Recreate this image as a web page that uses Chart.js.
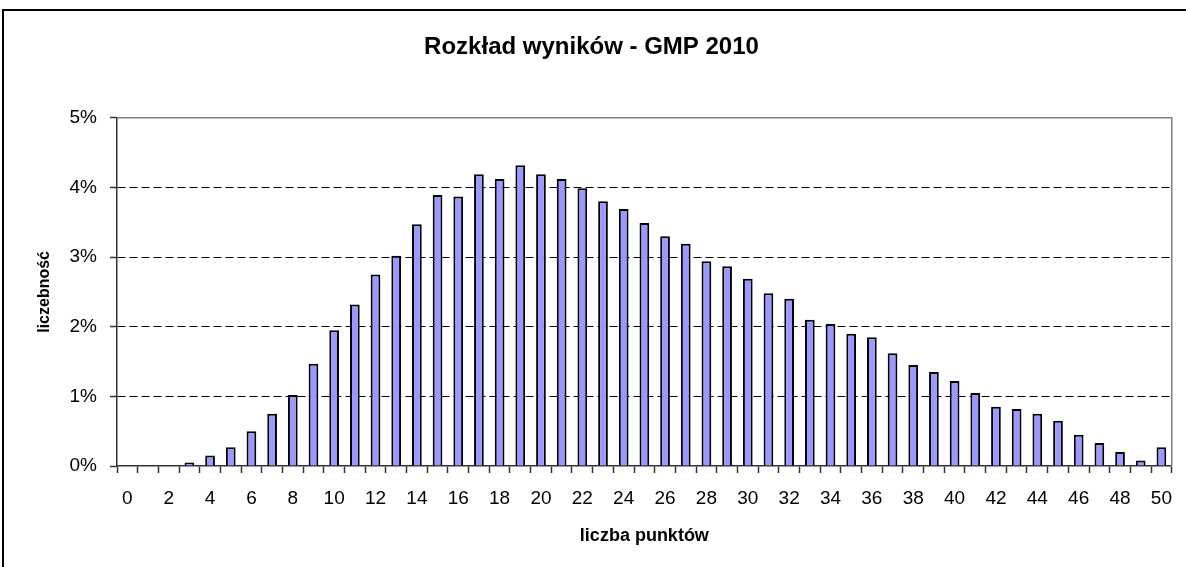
<!DOCTYPE html>
<html lang="pl">

<head>
    <meta charset="utf-8">
    <script src="https://cdn.jsdelivr.net/npm/chart.js@4/dist/chart.umd.min.js"></script>
    <style>
        body { margin: 0; background: #fff; overflow: hidden; }
        #wykres { display: block; }
    </style>
</head>

<body>
    <canvas id="wykres" width="1186" height="567"></canvas>

    <script>
        // liczba punktów (oś X)
        const punkty = ["0", "1", "2", "3", "4", "5", "6", "7", "8", "9",
            "10", "11", "12", "13", "14", "15", "16", "17", "18", "19",
            "20", "21", "22", "23", "24", "25", "26", "27", "28", "29",
            "30", "31", "32", "33", "34", "35", "36", "37", "38", "39",
            "40", "41", "42", "43", "44", "45", "46", "47", "48", "49", "50"];

        // liczebność w procentach
        const liczebnosc = [0, 0, 0, 0.05, 0.15, 0.27, 0.50, 0.75, 1.02, 1.47,
            1.95, 2.32, 2.75, 3.02, 3.47, 3.89, 3.87, 4.19, 4.12, 4.32,
            4.19, 4.12, 3.99, 3.80, 3.69, 3.49, 3.30, 3.19, 2.94, 2.87,
            2.69, 2.48, 2.40, 2.10, 2.04, 1.90, 1.85, 1.62, 1.45, 1.35,
            1.22, 1.05, 0.85, 0.82, 0.75, 0.65, 0.45, 0.33, 0.20, 0.08, 0.27];

        const osY = [0, 1, 2, 3, 4, 5];

        const czcionka = "'Liberation Sans', Arial, sans-serif";

        // biale tlo, czarna ramka wykresu i szara ramka obszaru kreslenia
        const ramka = {
            id: 'ramka',
            beforeDraw(chart) {
                const ctx = chart.ctx;
                ctx.save();
                ctx.fillStyle = '#fff';
                ctx.fillRect(0, 0, chart.width, chart.height);
                ctx.lineWidth = 2;
                ctx.strokeStyle = '#000';
                ctx.strokeRect(3, 10, chart.width + 20, chart.height + 20);
                ctx.restore();
            },
            afterDatasetsDraw(chart) {
                const a = chart.chartArea;
                const ctx = chart.ctx;
                ctx.save();
                ctx.lineWidth = 1.5;
                ctx.strokeStyle = '#808080';
                ctx.beginPath();
                ctx.moveTo(a.left, a.top);
                ctx.lineTo(a.right, a.top);
                ctx.lineTo(a.right, a.bottom);
                ctx.stroke();
                ctx.restore();
            }
        };

        new Chart(document.getElementById('wykres'), {
            type: 'bar',
            data: {
                labels: punkty,
                datasets: [{
                    data: liczebnosc,
                    backgroundColor: '#9999FF',
                    borderColor: '#000',
                    borderWidth: 2,
                    barPercentage: 0.47,
                    categoryPercentage: 1
                }]
            },
            options: {
                responsive: false,
                animation: false,
                layout: { padding: { left: 0, right: 3, top: 0, bottom: 0 } },
                plugins: {
                    legend: { display: false },
                    tooltip: { enabled: false },
                    title: {
                        display: true,
                        text: 'Rozkład wyników - GMP 2010',
                        color: '#000',
                        font: { family: czcionka, size: 24, weight: 'bold' },
                        padding: { top: 33, bottom: 56 }
                    }
                },
                scales: {
                    x: {
                        afterFit(scale) { scale.height = 101; },
                        grid: {
                            drawOnChartArea: false,
                            tickLength: 7,
                            tickColor: '#333',
                            tickWidth: 1.5,
                            offset: true
                        },
                        border: { color: '#333', width: 1.5 },
                        ticks: {
                            autoSkip: false,
                            maxRotation: 0,
                            color: '#000',
                            padding: 14,
                            font: { family: czcionka, size: 19 },
                            callback(v, i) { return i % 2 === 0 ? punkty[i] : ''; }
                        },
                        title: {
                            display: true,
                            text: 'liczba punktów',
                            color: '#000',
                            font: { family: czcionka, size: 18, weight: 'bold' },
                            padding: { top: 0, bottom: 20 }
                        }
                    },
                    y: {
                        min: osY[0],
                        max: osY[osY.length - 1],
                        afterFit(scale) { scale.width = 117; },
                        afterBuildTicks(scale) { scale.ticks = osY.map(v => ({ value: v })); },
                        grid: {
                            color: ctx => (ctx.tick && ctx.tick.value > 0 && ctx.tick.value < 5) ? '#000' : 'rgba(0,0,0,0)',
                            lineWidth: 1,
                            tickLength: 7,
                            tickColor: '#333',
                            tickWidth: 1.5
                        },
                        border: { color: '#333', width: 1.5, dash: [8, 4] },
                        ticks: {
                            color: '#000',
                            padding: 13,
                            font: { family: czcionka, size: 19 },
                            callback: v => v + '%'
                        },
                        title: {
                            display: true,
                            text: 'liczebność',
                            color: '#000',
                            font: { family: czcionka, size: 16, weight: 'bold' },
                            padding: { top: 35, bottom: 0 }
                        }
                    }
                }
            },
            plugins: [ramka]
        });
    </script>
</body>

</html>
